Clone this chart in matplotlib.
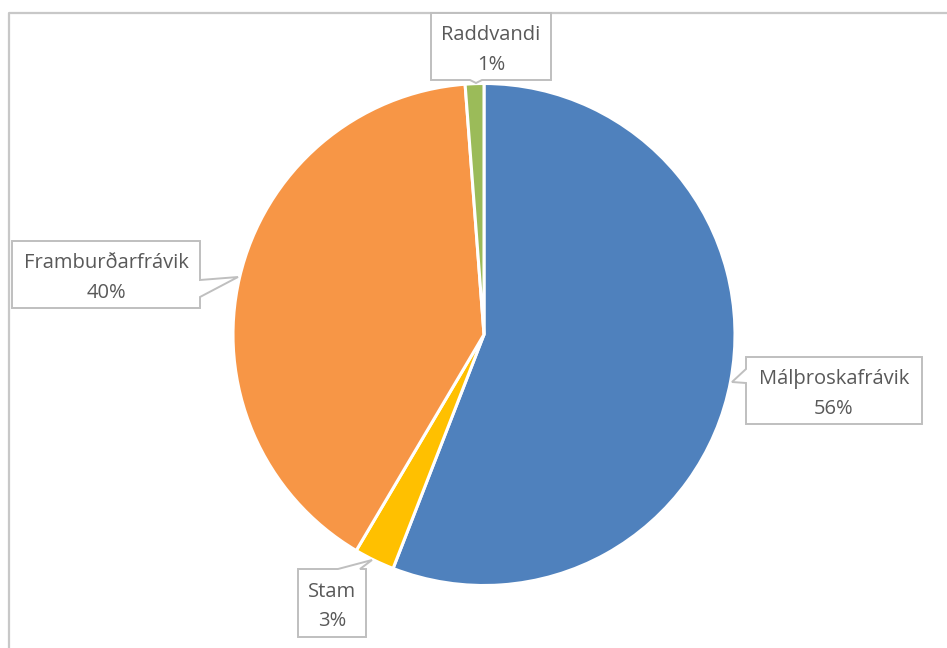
import matplotlib.pyplot as plt
from matplotlib.patches import Polygon
from matplotlib.lines import Line2D

# data
labels = ['Málþroskafrávik', 'Stam', 'Framburðarfrávik', 'Raddvandi']
shares = [55.9, 2.6, 40.3, 1.2]
colors = ['#4F81BD', '#FFC000', '#F79646', '#9BBB59']

W, H = 947, 648
fig = plt.figure(figsize=(W / 100, H / 100), dpi=100)

def fx(x):
    return x / W

def fy(y):
    return 1 - y / H

# pie axes (center 484,334 px, radius 251 px)
cx, cy, r = 484, 334.5, 251
ax = fig.add_axes([fx(cx - r), fy(cy + r), 2 * r / W, 2 * r / H])
ax.pie(shares, colors=colors, startangle=90, counterclock=False,
       wedgeprops=dict(edgecolor='white', linewidth=2.2))
ax.set_xlim(-1, 1)
ax.set_ylim(-1, 1)
ax.set_aspect('auto')
ax.axis('off')

# chart area border (left + top)
fig.add_artist(Line2D([fx(8.5), fx(8.5), fx(W + 5)], [fy(H + 5), fy(12.5), fy(12.5)],
                      color='#C8C8C8', lw=1.6, transform=fig.transFigure))

def callout(text, box, notch, tip):
    x0, y0, x1, y1 = box
    side, a, b = notch
    if side == 'right':
        pts = [(x0, y0), (x1, y0), (x1, a), tip, (x1, b), (x1, y1), (x0, y1)]
    elif side == 'left':
        pts = [(x0, y0), (x1, y0), (x1, y1), (x0, y1), (x0, b), tip, (x0, a)]
    elif side == 'top':
        pts = [(x0, y0), (a, y0), tip, (b, y0), (x1, y0), (x1, y1), (x0, y1)]
    else:
        pts = [(x0, y0), (x1, y0), (x1, y1), (b, y1), tip, (a, y1), (x0, y1)]
    poly = Polygon([(fx(px), fy(py)) for px, py in pts], closed=True,
                   facecolor='white', edgecolor='#BFBFBF', lw=1.4,
                   transform=fig.transFigure, zorder=5)
    fig.add_artist(poly)
    fig.text(fx((x0 + x1) / 2), fy((y0 + y1) / 2 + 3.5), text, ha='center', va='center',
             fontsize=14.5, family='Open Sans', color='#595959', linespacing=1.65, zorder=6)

pct = [f'{round(s)}%' for s in shares]
callout(f'{labels[0]}\n{pct[0]}', (746, 357, 922, 424), ('left', 369, 383), (732, 382))
callout(f'{labels[1]}\n{pct[1]}', (298, 569, 366, 637), ('top', 338, 360), (372, 560))
callout(f'{labels[2]}\n{pct[2]}', (12, 241, 200, 308), ('right', 280, 297), (238, 277))
callout(f'{labels[3]}\n{pct[3]}', (431, 13, 551, 80), ('bottom', 470, 482), (476, 83))

fig.savefig('out.png', dpi=100)
